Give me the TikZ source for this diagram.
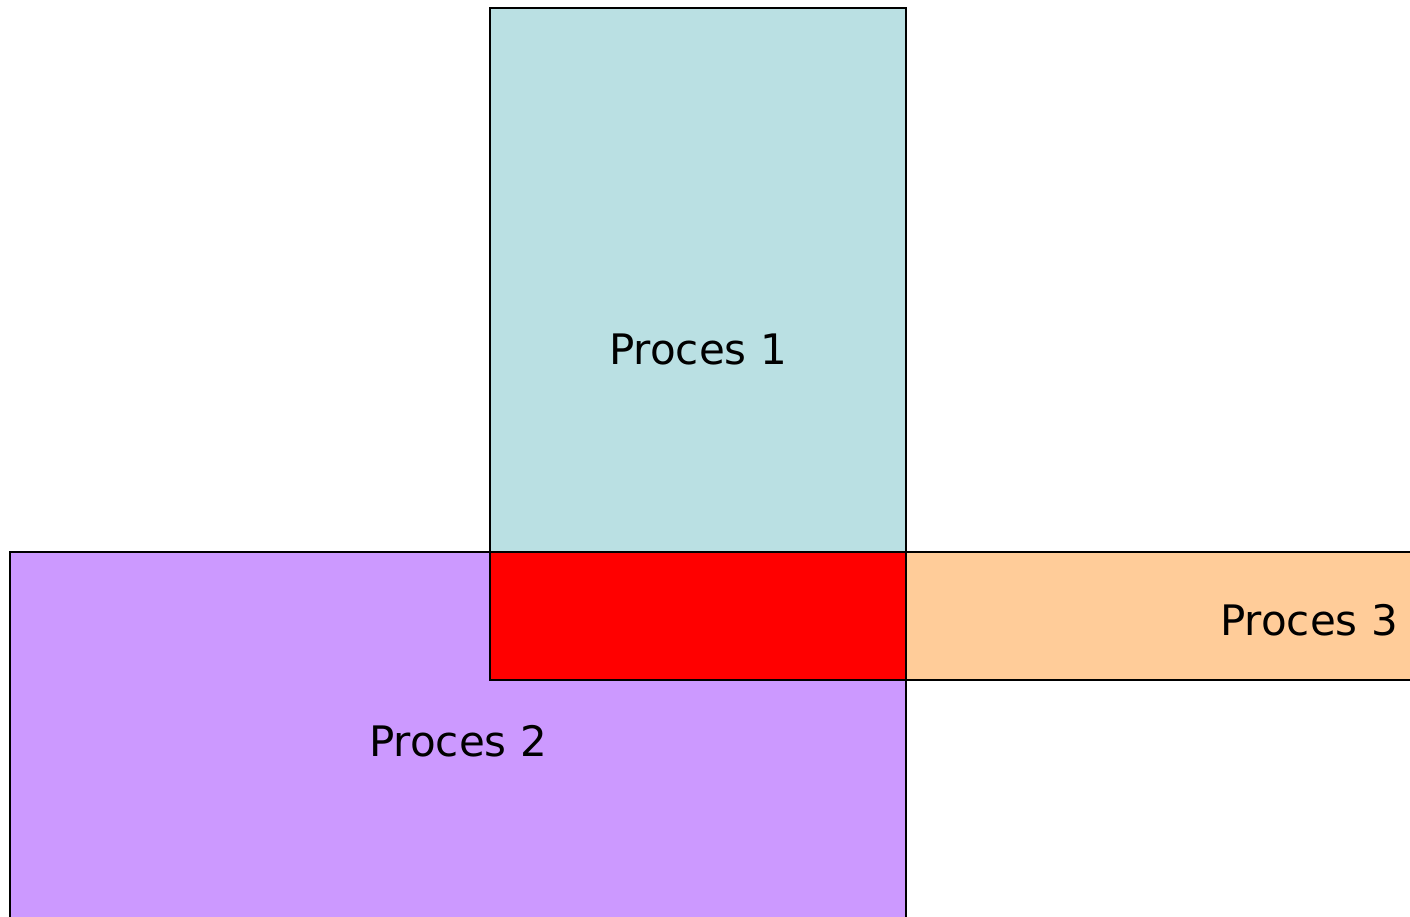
\documentclass[tikz,border=0pt]{standalone}
\usepackage{fontspec}
\setmainfont{DejaVu Sans}
\definecolor{pOne}{RGB}{186,224,227}
\definecolor{pTwo}{RGB}{204,153,255}
\definecolor{pThree}{RGB}{255,204,153}
\definecolor{clash}{RGB}{255,0,0}
\begin{document}
\begin{tikzpicture}[x=1pt,y=-1pt,
  box/.style={draw=black,line width=2pt},
  lbl/.style={font=\fontsize{42}{46}\selectfont,inner sep=0pt,anchor=base}]
\useasboundingbox (0,0) rectangle (1410,917);
\clip (0,0) rectangle (1410,917);
\fill[white] (0,0) rectangle (1410,917);
\draw[box,fill=pOne] (490,8) rectangle (906,552);
\draw[box,fill=pTwo] (10,552) rectangle (906,940);
\draw[box,fill=pThree] (906,552) rectangle (1440,680);
\draw[box,fill=clash] (490,552) rectangle (906,680);
\node[lbl] (p1) at (698,364) {Proces 1};
\node[lbl] (p2) at (458,756) {Proces 2};
\node[lbl] (p3) at (1309,635) {Proces 3};
\end{tikzpicture}
\end{document}
